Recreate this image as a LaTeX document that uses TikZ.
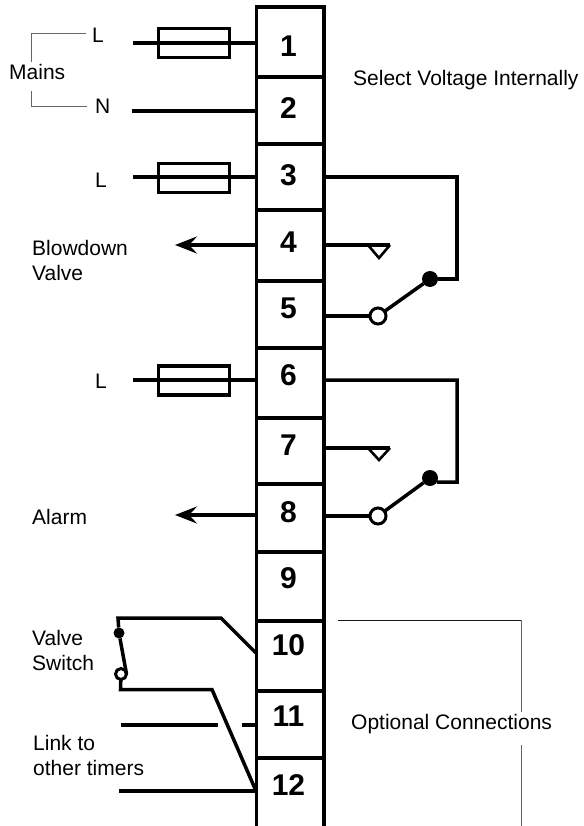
\documentclass[tikz,border=0pt]{standalone}
\usepackage{fontspec}
\setmainfont{Liberation Sans}
\usetikzlibrary{arrows.meta}
\tikzset{
  x=1pt,y=-1pt,
  wire/.style={line width=3.5pt,line join=miter},
  thin wire/.style={line width=1pt,black!60},
  thin dark/.style={line width=1pt,black!90},
  fusebox/.style={draw,line width=3.5pt,minimum width=71pt,minimum height=29pt,inner sep=0pt,outer sep=0pt},
  term/.style={draw,line width=3.5pt,minimum width=67.5pt,inner sep=0pt,outer sep=0pt},
  numlab/.style={inner sep=0pt,font=\bfseries\fontsize{30}{32}\selectfont},
  lab/.style={inner sep=0pt,font=\fontsize{21}{25}\selectfont,anchor=base west},
  closed/.style={circle,fill=black,draw=none,minimum size=16pt,inner sep=0pt,outer sep=0pt},
  open/.style={circle,fill=white,draw,line width=3pt,minimum size=16pt,inner sep=0pt,outer sep=0pt},
  arr/.style={wire,-{Stealth[length=22pt,width=17pt,inset=8pt]}},
}
\begin{document}
\begin{tikzpicture}
\useasboundingbox (0,0) rectangle (583,826);
% terminal strip
\foreach \n/\a/\b in {1/7/77,2/77/144,3/144/210,4/210/281,5/281/348,6/348/418,7/418/484,8/484/552,9/552/621,10/621/691,11/691/758}{
  \pgfmathsetmacro\h{\b-\a}
  \pgfmathsetmacro\c{(\a+\b)/2}
  \node[term,minimum height=\h pt] (t\n) at (290,\c) {};
}
\draw[wire] (t11.south west) -- (256.25,826) coordinate (lb);
\draw[wire] (t11.south east) -- (323.75,826) coordinate (rb);
\foreach \n/\y in {1/46,2/108,3/175,4/242,5/308,6/375,7/445,8/512,9/578,10/645,11/716,12/785}{
  \node[numlab] (n\n) at (288.5,\y) {\n};
}
% left wires
\coordinate (w1) at (133,43); \coordinate (e1) at (256,43);
\coordinate (w2) at (132,111); \coordinate (e2) at (256,111);
\coordinate (w3) at (133,177); \coordinate (e3) at (256,177);
\coordinate (w6) at (133,380); \coordinate (e6) at (256,380);
\coordinate (a4) at (175,245); \coordinate (e4) at (256,245);
\coordinate (a8) at (175,515); \coordinate (e8) at (256,515);
\draw[wire] (w1) -- (e1);
\draw[wire] (w2) -- (e2);
\draw[wire] (w3) -- (e3);
\draw[wire] (w6) -- (e6);
\node[fusebox] (f1) at (194,43) {};
\node[fusebox] (f3) at (194,178) {};
\node[fusebox] (f6) at (194,380.5) {};
\draw[arr] (e4) -- (a4);
\draw[arr] (e8) -- (a8);
% relay 1
\coordinate (r3) at (324,177); \coordinate (r4) at (324,245); \coordinate (r5) at (324,316);
\coordinate (c1) at (457,177); \coordinate (c2) at (457,279);
\node[closed] (k1) at (430,279) {};
\node[open] (o1) at (378,316) {};
\coordinate (n1) at (390,245);
\coordinate (n1t) at (379,258);
\draw[wire] (r3) -- (c1) -- (c2) -- (k1);
\draw[wire] (r5) -- (o1);
\draw[wire] (r4) -- (n1);
\draw[line width=2.6pt,line join=miter] (n1) -- (n1t) -- (368,245);
\draw[wire] (o1) -- (k1);
% relay 2
\coordinate (r6) at (324,380); \coordinate (r7) at (324,448); \coordinate (r8) at (324,516);
\coordinate (c3) at (457,380); \coordinate (c4) at (457,482);
\node[closed] (k2) at (430,478) {};
\node[open] (o2) at (378,516) {};
\coordinate (n2) at (390,448);
\coordinate (n2t) at (379,460);
\draw[wire] (r6) -- (c3) -- (c4) -- (k2.-30);
\draw[wire] (r8) -- (o2);
\draw[wire] (r7) -- (n2);
\draw[line width=2.6pt,line join=miter] (n2) -- (n2t) -- (368,448);
\draw[wire] (o2) -- (k2);
% valve switch
\node[closed,minimum size=11pt] (vk) at (119,633) {};
\node[open,minimum size=11pt] (vo) at (121,674) {};
\coordinate (v10) at (256,653); \coordinate (v10b) at (221,618); \coordinate (v10a) at (118,618);
\coordinate (v12) at (256,791); \coordinate (v12b) at (212,689.5); \coordinate (v12a) at (120.5,689.5);
\draw[wire] (vk) -- (v10a) -- (v10b) -- (v10);
\draw[wire] (vk) -- (vo.east);
\draw[wire] (vo) -- (v12a) -- (v12b) -- (v12);
% other links
\coordinate (l11) at (121,725); \coordinate (l11m) at (218,725);
\coordinate (l11n) at (242,725); \coordinate (e11) at (256,725);
\coordinate (l12) at (119,791);
\draw[wire] (l11) -- (l11m);
\draw[wire] (l11n) -- (e11);
\draw[wire] (l12) -- (v12);
% labels
\node[lab] (lL1) at (92,43) {L};
\node[lab] (lN) at (95,114) {N};
\node[lab] (lL3) at (95,188) {L};
\node[lab] (lL6) at (95,388) {L};
\node[lab] (lM) at (9,80) {Mains};
\node[lab] (lB) at (32,255) {Blowdown};
\node[lab] (lV) at (32,280) {Valve};
\node[lab] (lA) at (32,524) {Alarm};
\node[lab] (lVa) at (32,645) {Valve};
\node[lab] (lSw) at (32,670) {Switch};
\node[lab] (lLk) at (33,750) {Link to};
\node[lab] (lOt) at (33,775) {other timers};
\node[lab] (lSel) at (353,86) {Select Voltage Internally};
\node[lab] (lOpt) at (351,729) {Optional Connections};
% brackets
\coordinate (bm1) at (31,62); \coordinate (bm2) at (31,34); \coordinate (bm3) at (86,34);
\coordinate (bm4) at (31,91); \coordinate (bm5) at (31,107); \coordinate (bm6) at (87,107);
\draw[thin wire] (bm1) -- (bm2) -- (bm3);
\draw[thin wire] (bm4) -- (bm5) -- (bm6);
\coordinate (bo1) at (338,620); \coordinate (bo2) at (521,620); \coordinate (bo3) at (521,712);
\coordinate (bo4) at (521,745); \coordinate (bo5) at (521,826);
\draw[thin wire] (bo2) -- (bo3);
\draw[thin wire] (bo4) -- (bo5);
\draw[thin dark] (bo1) -- (bo2);
\end{tikzpicture}
\end{document}
